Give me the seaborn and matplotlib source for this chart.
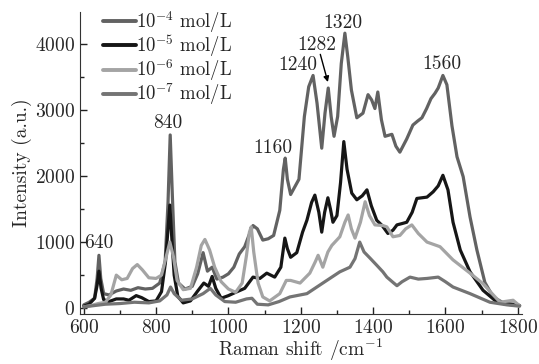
import pandas as pd
import seaborn as sns
from matplotlib import pyplot as plt
from matplotlib.ticker import MultipleLocator

# wavenumber / intensity, one pair of lists per concentration
x_4 = [600, 615, 630, 637, 642, 647, 655, 670, 690, 710, 730, 750, 770, 790, 810, 825, 833, 839, 845, 852, 862, 880, 900, 915, 930, 942, 955, 968, 985, 1000, 1015, 1030, 1045, 1060, 1068, 1080, 1095, 1110, 1125, 1142, 1152, 1157, 1163, 1172, 1185, 1195, 1210, 1222, 1234, 1245, 1258, 1267, 1276, 1284, 1292, 1302, 1312, 1322, 1330, 1340, 1355, 1372, 1386, 1396, 1405, 1413, 1423, 1433, 1452, 1463, 1474, 1493, 1510, 1523, 1535, 1548, 1560, 1571, 1580, 1593, 1604, 1618, 1632, 1649, 1668, 1687, 1709, 1732, 1760, 1790, 1805]
y_4 = [50, 90, 150, 450, 800, 450, 220, 200, 260, 290, 270, 310, 290, 300, 380, 700, 1600, 2620, 1700, 700, 380, 290, 330, 520, 840, 560, 620, 440, 470, 520, 620, 820, 930, 1150, 1250, 1200, 1030, 1050, 1100, 1480, 2100, 2270, 1950, 1720, 1850, 1950, 2900, 3350, 3520, 3100, 2420, 2950, 3330, 2900, 2600, 2900, 3700, 4160, 3800, 3300, 2880, 2950, 3230, 3150, 3020, 3270, 2850, 2600, 2630, 2450, 2360, 2560, 2770, 2830, 2880, 3020, 3170, 3250, 3330, 3520, 3380, 2760, 2290, 1990, 1380, 880, 390, 170, 80, 60, 40]

x_5 = [600, 615, 630, 637, 642, 648, 655, 670, 690, 710, 725, 745, 760, 780, 800, 815, 826, 833, 838, 843, 850, 860, 875, 895, 915, 932, 945, 955, 965, 980, 1000, 1020, 1045, 1068, 1087, 1106, 1128, 1145, 1156, 1163, 1172, 1189, 1205, 1217, 1230, 1239, 1250, 1258, 1266, 1275, 1282, 1289, 1300, 1310, 1319, 1328, 1341, 1355, 1370, 1383, 1395, 1410, 1425, 1441, 1455, 1466, 1480, 1493, 1508, 1521, 1535, 1549, 1566, 1580, 1593, 1607, 1621, 1641, 1668, 1704, 1743, 1770, 1805]
y_5 = [30, 60, 150, 350, 560, 300, 130, 100, 140, 140, 120, 190, 160, 100, 110, 250, 700, 1200, 1560, 1100, 500, 180, 80, 110, 260, 380, 330, 480, 300, 150, 190, 240, 300, 470, 450, 530, 470, 620, 1060, 900, 770, 840, 1150, 1330, 1600, 1710, 1450, 1150, 1450, 1670, 1500, 1300, 1400, 1900, 2520, 2100, 1740, 1640, 1700, 1790, 1550, 1330, 1250, 1130, 1180, 1260, 1280, 1300, 1450, 1660, 1670, 1680, 1760, 1850, 2010, 1790, 1300, 880, 550, 270, 90, 60, 40]

x_6 = [600, 620, 640, 660, 675, 690, 705, 720, 735, 748, 762, 780, 800, 815, 828, 838, 848, 858, 875, 895, 912, 925, 935, 948, 962, 980, 1000, 1020, 1038, 1050, 1058, 1063, 1070, 1082, 1095, 1114, 1142, 1160, 1172, 1198, 1225, 1240, 1248, 1261, 1275, 1286, 1308, 1322, 1331, 1340, 1350, 1365, 1378, 1390, 1405, 1427, 1438, 1455, 1474, 1490, 1507, 1525, 1549, 1585, 1621, 1668, 1704, 1729, 1751, 1775, 1787, 1800, 1805]
y_6 = [20, 40, 70, 90, 200, 500, 430, 450, 600, 660, 580, 460, 450, 500, 780, 1000, 780, 420, 280, 300, 620, 950, 1040, 880, 620, 400, 290, 240, 380, 800, 1150, 1230, 850, 380, 170, 110, 220, 420, 420, 380, 530, 700, 800, 620, 850, 950, 1080, 1300, 1410, 1200, 1060, 1300, 1610, 1400, 1260, 1250, 1230, 1080, 1100, 1200, 1260, 1130, 1000, 930, 730, 530, 370, 220, 90, 110, 120, 60, 40]

x_7 = [600, 630, 660, 700, 740, 780, 810, 830, 840, 850, 870, 900, 930, 950, 965, 990, 1020, 1050, 1065, 1080, 1110, 1140, 1170, 1217, 1261, 1308, 1336, 1350, 1363, 1375, 1391, 1410, 1427, 1438, 1455, 1466, 1480, 1502, 1525, 1549, 1580, 1600, 1621, 1668, 1723, 1770, 1805]
y_7 = [20, 40, 60, 70, 90, 80, 110, 200, 320, 220, 120, 140, 220, 300, 200, 100, 90, 140, 150, 60, 50, 100, 170, 220, 380, 550, 620, 750, 1000, 850, 760, 650, 550, 470, 390, 340, 400, 470, 440, 450, 470, 400, 320, 220, 90, 50, 30]

labels = [r'10$^{-4}$ mol/L', r'10$^{-5}$ mol/L', r'10$^{-6}$ mol/L', r'10$^{-7}$ mol/L']
colors = ['#626262', '#161616', '#a4a4a4', '#747474']

sns.set_style('ticks')
plt.rcParams['font.family'] = ['cmr10', 'DejaVu Serif']
plt.rcParams['mathtext.fontset'] = 'cm'
plt.rcParams['axes.formatter.use_mathtext'] = True
plt.rcParams['axes.unicode_minus'] = False

fig = plt.figure(figsize=(5.39, 3.64), dpi=100)
ax = fig.add_axes([0.148, 0.137, 0.820, 0.830])

series = [(x_4, y_4), (x_5, y_5), (x_6, y_6), (x_7, y_7)]
for (xs, ys), lab, col in zip(series, labels, colors):
	df = pd.DataFrame({'shift': xs, 'intensity': ys})
	sns.lineplot(data=df, x='shift', y='intensity', color=col, lw=2.3, label=lab, ax=ax)

ax.set_xlim(589, 1811)
ax.set_ylim(-90, 4480)
ax.xaxis.set_major_locator(MultipleLocator(200))
ax.xaxis.set_minor_locator(MultipleLocator(100))
ax.yaxis.set_major_locator(MultipleLocator(1000))
ax.yaxis.set_minor_locator(MultipleLocator(500))
ax.tick_params(which='both', direction='in', labelsize=14, color='#222222')
ax.tick_params(which='major', length=5, width=1)
ax.tick_params(which='minor', length=3, width=1)
sns.despine(ax=ax)
for s in ['left', 'bottom']:
	ax.spines[s].set_color('#333333')

ax.set_xlabel(r'Raman shift /cm$^{-1}$', fontsize=14, labelpad=0)
ax.set_ylabel('Intensity (a.u.)', fontsize=14, labelpad=2)

#peak labels
fs = 14
ax.text(641, 985, '640', ha='center', va='center', fontsize=fs)
ax.text(832, 2800, '840', ha='center', va='center', fontsize=fs)
ax.text(1123, 2420, '1160', ha='center', va='center', fontsize=fs)
ax.text(1192, 3680, '1240', ha='center', va='center', fontsize=fs)
ax.text(1245, 3985, '1282', ha='center', va='center', fontsize=fs)
ax.text(1317, 4320, '1320', ha='center', va='center', fontsize=fs)
ax.text(1590, 3700, '1560', ha='center', va='center', fontsize=fs)
ax.annotate('', xy=(1277, 3380), xytext=(1252, 3880),
	arrowprops=dict(arrowstyle='-|>', color='black', lw=1, mutation_scale=8))

leg = ax.legend(loc='upper left', bbox_to_anchor=(0.035, 1.035), frameon=False, fontsize=13.5,
	handlelength=1.75, handletextpad=0.05, labelspacing=-0.1, borderaxespad=0)
for h in leg.get_lines():
	h.set_linewidth(2.8)

fig.savefig('out.png', dpi=100)
